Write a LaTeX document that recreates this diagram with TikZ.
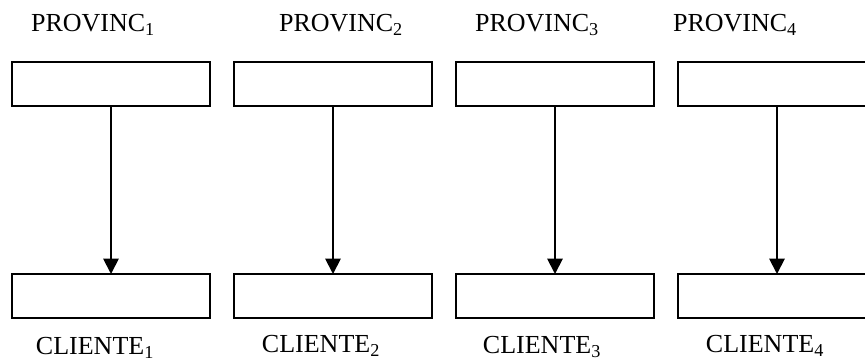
\documentclass[tikz,border=0pt]{standalone}
\usepackage{fontspec}
\setmainfont{Liberation Serif}
\usetikzlibrary{positioning,arrows.meta}

\begin{document}
\begin{tikzpicture}[x=0.75pt,y=-0.75pt, line width=1pt
  ]
% Box and label styles
\tikzstyle{box}=[draw=black,fill=white,outer sep=0pt,inner sep=0pt,minimum width=148.5pt,minimum height=33pt]
\tikzstyle{lbl}=[text=black,inner sep=0pt,anchor=base,font=\fontsize{19.5}{22}\selectfont]
\useasboundingbox (0,0) rectangle (865,361);
% Upper blocks
\node[box,anchor=north west] (p1) at (12,62) {};
\node[box,right=18pt of p1] (p2) {};
\node[box,right=18pt of p2] (p3) {};
\node[box,right=18pt of p3] (p4) {};
% Lower blocks
\node[box,anchor=north west] (c1) at (12,274) {};
\node[box,right=18pt of c1] (c2) {};
\node[box,right=18pt of c2] (c3) {};
\node[box,right=18pt of c3] (c4) {};

% Arrows
\foreach \i in {1,...,4}
\draw[black, line width=1.4pt, -{Triangle[length=11.5pt,width=11.5pt]}] (p\i) -- (c\i);

% Labels
\node[lbl] (tp1) at ([xshift=-13.5pt,yshift=23.25pt]p1.north) {PROVINC\textsubscript{1}};
\node[lbl] (tp2) at ([xshift=6pt,yshift=23.25pt]p2.north) {PROVINC\textsubscript{2}};
\node[lbl] (tp3) at ([xshift=-13.5pt,yshift=23.25pt]p3.north) {PROVINC\textsubscript{3}};
\node[lbl] (tp4) at ([xshift=-31.5pt,yshift=23.25pt]p4.north) {PROVINC\textsubscript{4}};

\node[lbl] (tc1) at ([xshift=-12pt,yshift=-27pt]c1.south) {CLIENTE\textsubscript{1}};
\node[lbl] (tc2) at ([xshift=-9pt,yshift=-25.5pt]c2.south) {CLIENTE\textsubscript{2}};
\node[lbl] (tc3) at ([xshift=-9.75pt,yshift=-26.25pt]c3.south) {CLIENTE\textsubscript{3}};
\node[lbl] (tc4) at ([xshift=-9pt,yshift=-25.5pt]c4.south) {CLIENTE\textsubscript{4}};
%---------------------
\end{tikzpicture}
\end{document}
